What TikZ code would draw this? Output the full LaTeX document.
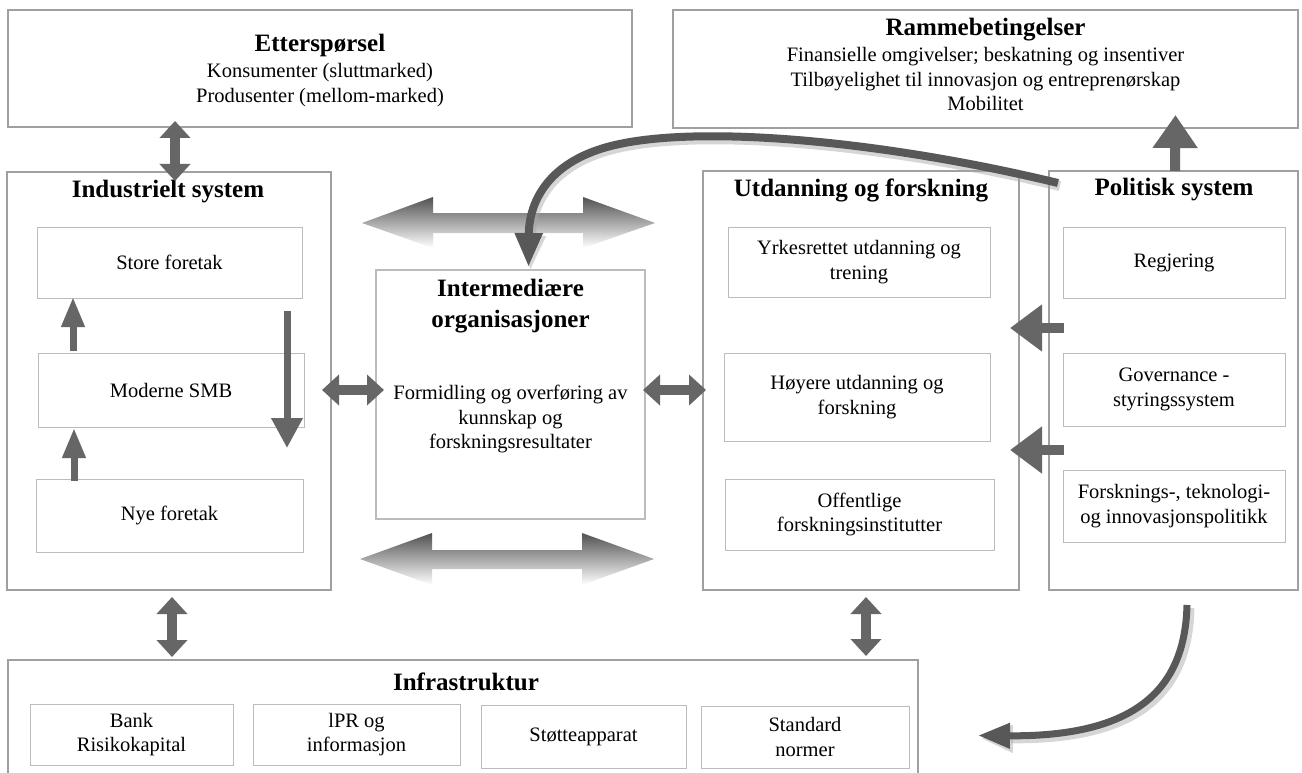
\documentclass[tikz,border=0pt]{standalone}
\usepackage{fontspec}
\setmainfont{Liberation Serif}
\usetikzlibrary{arrows.meta,calc}

\definecolor{arrowgray}{RGB}{102,102,102}
\definecolor{curvegray}{RGB}{88,88,88}
\definecolor{outerline}{RGB}{160,160,160}
\definecolor{innerline}{RGB}{188,188,188}

\begin{document}
\begin{tikzpicture}[x=1pt,y=-1pt,
  outerbox/.style={draw=outerline, line width=1.2pt, inner sep=0pt, outer sep=0pt},
  innerbox/.style={draw=innerline, line width=1pt, inner sep=0pt, outer sep=0pt,
    align=center, font=\fontsize{20.5}{24.5}\selectfont},
  boxtitle/.style={inner sep=0pt, align=center, font=\fontsize{25}{31}\selectfont\bfseries},
  bodytext/.style={inner sep=0pt, align=center, font=\fontsize{20.5}{24.5}\selectfont},
  blk/.style={draw=arrowgray, line width=10pt},
  dblk/.style={blk, arrows={Triangle[width=30pt,length=17pt]-Triangle[width=30pt,length=17pt]}},
  upblk/.style={blk, arrows={-Triangle[width=43pt,length=33pt]}},
  sideblk/.style={blk, arrows={-Triangle[width=45pt,length=32pt]}},
  smallblk/.style={draw=arrowgray, line width=7pt, arrows={-Triangle[width=22pt,length=30pt]}},
  downblk/.style={draw=arrowgray, line width=7pt, arrows={-Triangle[width=30pt,length=30pt]}},
  fade/.style={top color=black!68, middle color=black!38, bottom color=white, draw=none},
  curvearrow/.style={draw=curvegray, line width=#1pt},
  curveshadow/.style={draw=black!35, opacity=.45, line width=#1pt},
]
\useasboundingbox (0,0) rectangle (1302,773);
\fill[white] (0,0) rectangle (1302,773);

% ---------- top row ----------
\node[outerbox, minimum width=624pt, minimum height=117pt] (ett) at (320,68.5) {};
\node[boxtitle] (etttitle) at (320,45) {Etterspørsel};
\node[bodytext] (etttext) at (320,85) {Konsumenter (sluttmarked)\\Produsenter (mellom-marked)};

\node[outerbox, minimum width=625pt, minimum height=118pt] (ram) at (985.5,69) {};
\node[boxtitle] (ramtitle) at (985.5,30) {Rammebetingelser};
\node[bodytext] (ramtext) at (985.5,79) {Finansielle omgivelser; beskatning og insentiver\\Tilbøyelighet til innovasjon og entreprenørskap\\Mobilitet};

% ---------- industrial system ----------
\node[outerbox, minimum width=324pt, minimum height=418pt] (ind) at (169,381) {};
\node[boxtitle] (indtitle) at (168,192) {Industrielt system};
\node[innerbox, minimum width=265pt, minimum height=71pt] (store) at (169.5,262.5) {Store foretak};
\node[innerbox, minimum width=266pt, minimum height=74pt] (smb) at (171,390) {Moderne SMB};
\node[innerbox, minimum width=267pt, minimum height=73pt] (nye) at (169.5,515.5) {Nye foretak};

% ---------- intermediary organisations ----------
\node[outerbox, draw=innerline, minimum width=269pt, minimum height=249pt] (inter) at (510.5,394.5) {};
\node[boxtitle] (intertitle) at (510.5,306) {Intermediære\\organisasjoner};
\node[bodytext] (intertext) at (510.5,419) {Formidling og overføring av\\kunnskap og\\forskningsresultater};

% ---------- education and research ----------
\node[outerbox, minimum width=316pt, minimum height=419pt] (utd) at (861,380.5) {};
\node[boxtitle] (utdtitle) at (861,190) {Utdanning og forskning};
\node[innerbox, minimum width=262pt, minimum height=70pt] (yrk) at (859,262) {Yrkesrettet utdanning og\\trening};
\node[innerbox, minimum width=266pt, minimum height=88pt] (hoy) at (857,397) {Høyere utdanning og\\forskning};
\node[innerbox, minimum width=269pt, minimum height=71pt] (off) at (859.5,514.5) {Offentlige\\forskningsinstitutter};

% ---------- political system ----------
\node[outerbox, minimum width=249pt, minimum height=419pt] (pol) at (1173.5,380.5) {};
\node[boxtitle] (poltitle) at (1174,190) {Politisk system};
\node[innerbox, minimum width=222pt, minimum height=71pt] (reg) at (1174,262.5) {Regjering};
\node[innerbox, minimum width=222pt, minimum height=73pt] (gov) at (1174,389.5) {Governance -\\styringssystem};
\node[innerbox, minimum width=222pt, minimum height=72pt] (ftp) at (1174,506) {Forsknings-, teknologi-\\og innovasjonspolitikk};

% ---------- infrastructure ----------
\node[outerbox, minimum width=910pt, minimum height=125pt] (infra) at (463,722.5) {};
\node[boxtitle] (infratitle) at (466,682) {Infrastruktur};
\node[innerbox, minimum width=203pt, minimum height=61pt] (bank) at (131.5,734.5) {Bank\\Risikokapital};
\node[innerbox, minimum width=207pt, minimum height=61pt] (ipr) at (356.5,734.5) {lPR og\\informasjon};
\node[innerbox, minimum width=205pt, minimum height=63pt] (stotte) at (583.5,736.5) {Støtteapparat};
\node[innerbox, minimum width=208pt, minimum height=62pt] (std) at (805,737) {Standard\\normer};

% ---------- shaded two-way arrows between the columns ----------
\shade[fade] (362,223) -- (433,197) -- (433,213) -- (583,213) -- (583,197) -- (655,223)
  -- (583,248) -- (583,233) -- (433,233) -- (433,248) -- cycle;
\shade[fade] (360,559) -- (432,533) -- (432,550) -- (582,550) -- (582,533) -- (654,559)
  -- (582,585) -- (582,569) -- (432,569) -- (432,585) -- cycle;

% ---------- block arrows ----------
\draw[dblk] ($(ett.south)+(-145,-6)$) -- ($(ind.north)+(6,9)$);
\draw[dblk] ($(ind.south)+(3,7)$) -- ($(infra.north)+(-291,-3)$);
\draw[dblk] ($(utd.south)+(5,7)$) -- ($(infra.north)+(403,-4)$);
\draw[upblk] ($(pol.north)+(1.5,0)$) -- ($(ram.south)+(190,-13)$);
\draw[dblk] ($(ind.east)+(-9,9)$) -- ($(inter.west)+(8,-4.5)$);
\draw[dblk] ($(inter.east)+(-2,-4.5)$) -- ($(utd.west)+(3,9.5)$);
\draw[sideblk] ($(pol.west)+(15,-52.5)$) -- ($(utd.east)+(-9,-52.5)$);
\draw[sideblk] ($(pol.west)+(15,69.5)$) -- ($(utd.east)+(-9,69.5)$);
\draw[smallblk] ($(smb.north)+(-98,-2)$) -- ($(store.south)+(-96.5,-1)$);
\draw[smallblk] ($(nye.north)+(-95.5,2)$) -- ($(smb.south)+(-97,1)$);
\draw[downblk] ($(store.south)+(117.5,13)$) -- ($(nye.north)+(117.5,-31)$);

% ---------- curved arrows ----------
\coordinate (c1s) at ($(pol.north west)+(9,12)$);
\coordinate (c1e) at ($(inter.north)+(18,-3)$);
\draw[curveshadow=10, arrows={-Triangle[width=28pt,length=34pt]}, transform canvas={shift={(2pt,-3pt)}}]
  (c1s) .. controls (880,140) and (700,125) .. (615,145) .. controls (550,160) and (529,200) .. (c1e);
\draw[curvearrow=8, arrows={-Triangle[width=26pt,length=34pt]}]
  (c1s) .. controls (880,140) and (700,125) .. (615,145) .. controls (550,160) and (529,200) .. (c1e);

\coordinate (c2s) at ($(pol.south)+(13.5,15)$);
\coordinate (c2e) at ($(infra.east)+(60,13)$);
\draw[curveshadow=9, arrows={-Triangle[width=26pt,length=32pt]}, transform canvas={shift={(3pt,-3pt)}}]
  (c2s) .. controls (1185,690) and (1135,737) .. (c2e);
\draw[curvearrow=7, arrows={-Triangle[width=24pt,length=32pt]}]
  (c2s) .. controls (1185,690) and (1135,737) .. (c2e);
\end{tikzpicture}
\end{document}
